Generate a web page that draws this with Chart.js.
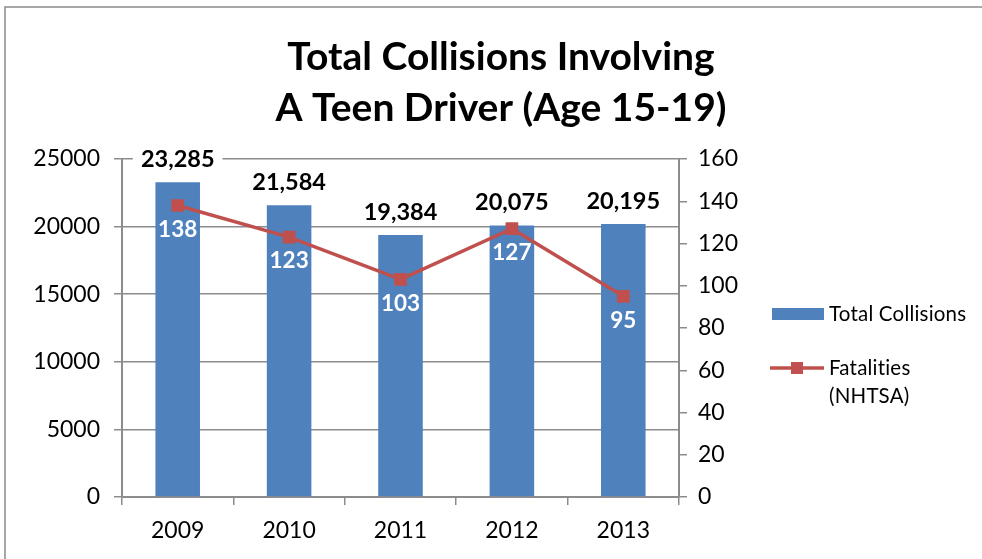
<!DOCTYPE html>
<html>
<head>
<meta charset="utf-8">
<style>
  html, body { margin: 0; padding: 0; background: #fff; }
  #wrap { width: 982px; height: 559px; }
</style>
</head>
<body>
<div id="wrap"><canvas id="teenChart" width="982" height="559"></canvas></div>

<script src="https://cdn.jsdelivr.net/npm/chart.js"></script>
<script>
    const years = ["2009", "2010", "2011", "2012", "2013"];
    const collisions = [23285, 21584, 19384, 20075, 20195];
    const fatalities = [138, 123, 103, 127, 95];
    const titleLines = ["Total Collisions Involving", "A Teen Driver (Age 15-19)"];
    const seriesNames = ["Total Collisions", ["Fatalities", "(NHTSA)"]];

    const FONT = "Lato, 'Open Sans', sans-serif";
    const BLUE = "#4F81BD", RED = "#C0504D", GRID = "#8c8c8c";
    const fmt = n => n.toLocaleString("en-US");

    // frame, title and legend are drawn straight onto the canvas
    const decor = {
        id: "decor",
        beforeDraw(chart) {
            const c = chart.ctx;
            c.save();
            c.strokeStyle = "#8a8a8a"; c.lineWidth = 1.5;
            c.beginPath(); c.moveTo(5, 559); c.lineTo(5, 7); c.lineTo(982, 7); c.stroke();
            c.restore();
        },
        afterDraw(chart) {
            const c = chart.ctx;
            c.save();
            c.fillStyle = "#000"; c.textAlign = "center"; c.textBaseline = "middle";
            c.font = `bold 39px ${FONT}`;
            c.fillText(titleLines[0], 501, 57);
            c.fillText(titleLines[1], 501, 108);

            // legend (slight letter spacing keeps "ti" from joining)
            c.textAlign = "left"; c.font = `20.5px ${FONT}`;
            c.letterSpacing = "0.2px";
            c.fillStyle = BLUE; c.fillRect(772, 308, 52, 12);
            c.fillStyle = "#000"; c.fillText(seriesNames[0], 829, 314);
            c.strokeStyle = RED; c.lineWidth = 3.5;
            c.beginPath(); c.moveTo(770, 368); c.lineTo(824, 368); c.stroke();
            c.fillStyle = RED; c.fillRect(791, 362, 12, 12);
            c.fillStyle = "#000";
            c.fillText(seriesNames[1][0], 829, 368);
            c.fillText(seriesNames[1][1], 829, 396);
            c.restore();
        }
    };

    // value labels: above bars (on white), below line points (white text)
    const valueLabels = {
        id: "valueLabels",
        afterDatasetsDraw(chart) {
            const c = chart.ctx;
            c.save();
            c.textAlign = "center"; c.textBaseline = "middle";
            c.font = `bold 23.5px ${FONT}`;
            chart.getDatasetMeta(0).data.forEach((el, i) => {
                const t = fmt(collisions[i]), w = c.measureText(t).width;
                const y = el.y - 23;
                c.fillStyle = "#fff"; c.fillRect(el.x - w / 2 - 8, y - 11, w + 16, 22);
                c.fillStyle = "#000"; c.fillText(t, el.x, y);
            });
            c.fillStyle = "#fff";
            c.font = `bold 22.5px ${FONT}`;
            chart.getDatasetMeta(1).data.forEach((el, i) => {
                c.fillText(String(fatalities[i]), el.x, el.y + 24);
            });
            c.restore();
        }
    };

    const tickFont = { family: FONT, size: 23 };
    const ctx = document.getElementById("teenChart").getContext("2d");
    new Chart(ctx, {
        data: {
            labels: years,
            datasets: [
                { type: "bar", label: seriesNames[0], data: collisions, backgroundColor: BLUE, yAxisID: "y", order: 1, barPercentage: 0.4, categoryPercentage: 1 },
                { type: "line", label: seriesNames[1].join(" "), data: fatalities, borderColor: RED, borderWidth: 3.5, backgroundColor: RED, pointStyle: "rect", pointRadius: 6.5, pointHoverRadius: 6.5, yAxisID: "y1", order: 0, tension: 0 }
            ]
        },
        options: {
            responsive: false,
            animation: false,
            layout: { padding: { top: 159, left: 0, right: 243, bottom: 0 } },
            plugins: { legend: { display: false }, title: { display: false }, tooltip: { enabled: false } },
            scales: {
                x: {
                    afterFit: s => { s.height = 62; },
                    grid: { offset: true, drawOnChartArea: false, tickLength: 8, color: GRID, lineWidth: 1.5 },
                    border: { color: GRID, width: 2 },
                    ticks: { color: "#000", font: tickFont, padding: 12 }
                },
                y: {
                    position: "left", min: 0, max: 25000,
                    afterFit: s => { s.width = 122; },
                    grid: { color: GRID, lineWidth: 1.5, tickLength: 8 },
                    border: { color: GRID, width: 2 },
                    ticks: { stepSize: 5000, color: "#000", font: tickFont, padding: 14, callback: v => String(v) }
                },
                y1: {
                    position: "right", min: 0, max: 160,
                    afterFit: s => { s.width = 60; },
                    grid: { drawOnChartArea: false, color: GRID, lineWidth: 1.5, tickLength: 8 },
                    border: { color: GRID, width: 2 },
                    ticks: { stepSize: 20, color: "#000", font: tickFont, padding: 11 }
                }
            }
        },
        plugins: [decor, valueLabels]
    });
</script>
</body>
</html>
